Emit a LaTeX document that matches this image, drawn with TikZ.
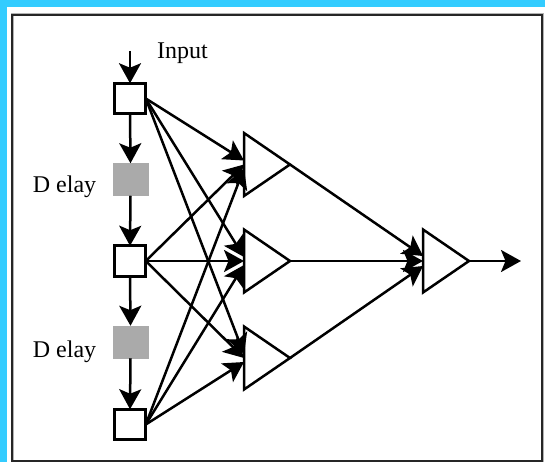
\documentclass[tikz,border=0pt]{standalone}
\usepackage{fontspec}
\setmainfont{Liberation Serif}
\usetikzlibrary{arrows.meta,shapes.geometric}
\definecolor{bgcyan}{RGB}{51,204,255}
\definecolor{dgray}{RGB}{170,170,170}
\begin{document}
\begin{tikzpicture}[x=1pt,y=-1pt,
  conn/.style={line width=2.5pt,-{Stealth[length=20pt,width=22pt,inset=4.5pt]}},
  unit/.style={draw,line width=2.8pt,fill=white,minimum width=31.5pt,minimum height=30.5pt,inner sep=0,outer sep=0},
  delaybox/.style={fill=dgray,draw=dgray,line width=0.5pt,minimum width=34.5pt,minimum height=32.5pt,inner sep=0,outer sep=0},
  neuron/.style={isosceles triangle,isosceles triangle stretches,draw,line width=2.5pt,fill=white,minimum height=46pt,minimum width=63pt,inner sep=0,outer sep=0,anchor=lower side},
  lbl/.style={font=\fontsize{24}{26}\selectfont,anchor=base,inner sep=0}]
\useasboundingbox (0,0) rectangle (545,462);
\fill[bgcyan] (0,0) rectangle (545,462);
\fill[white] (7,7) rectangle (545,462);
\draw[gray!60,line width=3pt] (12,15) rectangle (542,461);
\draw[black!85,line width=1.2pt] (12,15) rectangle (542,461);

% input column
\node[unit] (b1) at (130,98.5) {};
\node[delaybox] (d1) at (130.5,179.5) {};
\node[unit] (b2) at (130,261) {};
\node[delaybox] (d2) at (130.5,342) {};
\node[unit] (b3) at (130,424.5) {};

% neurons
\node[neuron] (t1) at (244,164.5) {};
\node[neuron] (t2) at (244,261) {};
\node[neuron] (t3) at (244,358) {};
\node[neuron] (o) at (423,261) {};

% labels
\node[lbl] (inlbl) at (182.5,59) {Input};
\node[lbl] (dl1) at (64.5,193) {D elay};
\node[lbl] (dl2) at (64.5,357) {D elay};

\coordinate (inp) at (130,51);
\coordinate (outp) at (521,261);

% vertical chain
\draw[conn] (inp) -- (b1.north);
\draw[conn] (b1.south) -- (d1.north);
\draw[conn] (d1.south) -- (b2.north);
\draw[conn] (b2.south) -- (d2.north);
\draw[conn] (d2.south) -- (b3.north);

% fully connected layer
\foreach \t in {t1,t2,t3}{
  \draw[conn] (b1.east) -- ([yshift=4pt]\t.lower side);
  \draw[conn] (b2.east) -- (\t.lower side);
  \draw[conn] (b3.east) -- ([yshift=-4pt]\t.lower side);
}

% output layer
\draw[conn] (t1.apex) -- ([yshift=5pt]o.lower side);
\draw[conn] (t2.apex) -- (o.lower side);
\draw[conn] (t3.apex) -- ([yshift=-5pt]o.lower side);
\draw[conn] (o.apex) -- (outp);
\end{tikzpicture}
\end{document}
